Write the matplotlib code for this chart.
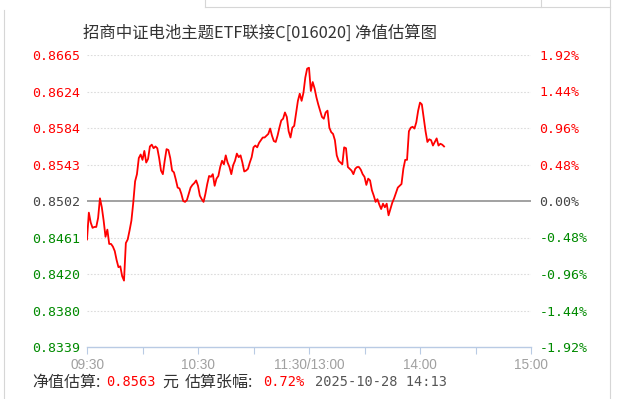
import matplotlib
matplotlib.use("Agg")
import matplotlib.pyplot as plt
from matplotlib.lines import Line2D

plt.rcParams["font.family"] = ["Noto Sans CJK SC", "DejaVu Sans"]

# trading minutes since 09:30 (11:30 and 13:00 share minute 120)
minutes = list(range(0, 194))
nav = [
    0.8459, 0.8489, 0.8478, 0.8472, 0.8473, 0.8473, 0.8483, 0.8505, 0.8495, 0.8480,
    0.8462, 0.8470, 0.8454, 0.8454, 0.8451, 0.8446, 0.8436, 0.8428, 0.8429, 0.8418,
    0.8413, 0.8455, 0.8459, 0.8469, 0.8480, 0.8500, 0.8524, 0.8532, 0.8550, 0.8554,
    0.8548, 0.8558, 0.8545, 0.8549, 0.8563, 0.8565, 0.8561, 0.8563, 0.8561, 0.8550,
    0.8536, 0.8532, 0.8547, 0.8560, 0.8559, 0.8550, 0.8536, 0.8534, 0.8526, 0.8517,
    0.8516, 0.8510, 0.8502, 0.8501, 0.8503, 0.8510, 0.8517, 0.8520, 0.8522, 0.8525,
    0.8519, 0.8508, 0.8504, 0.8501, 0.8510, 0.8521, 0.8530, 0.8529, 0.8532, 0.8519,
    0.8527, 0.8530, 0.8540, 0.8547, 0.8543, 0.8553, 0.8545, 0.8540, 0.8532, 0.8542,
    0.8547, 0.8555, 0.8551, 0.8553, 0.8545, 0.8535, 0.8536, 0.8538, 0.8545, 0.8551,
    0.8562, 0.8564, 0.8562, 0.8567, 0.8570, 0.8573, 0.8573, 0.8575, 0.8577, 0.8583,
    0.8575, 0.8569, 0.8568, 0.8575, 0.8584, 0.8592, 0.8594, 0.8601, 0.8596, 0.8580,
    0.8573, 0.8584, 0.8586, 0.8600, 0.8614, 0.8622, 0.8614, 0.8623, 0.8640, 0.8650,
    0.8651, 0.8625, 0.8635, 0.8628, 0.8618, 0.8610, 0.8603, 0.8596, 0.8594, 0.8601,
    0.8603, 0.8584, 0.8579, 0.8577, 0.8570, 0.8553, 0.8547, 0.8545, 0.8543, 0.8562,
    0.8561, 0.8540, 0.8538, 0.8536, 0.8532, 0.8538, 0.8540, 0.8540, 0.8537, 0.8532,
    0.8529, 0.8520, 0.8527, 0.8525, 0.8514, 0.8508, 0.8501, 0.8504, 0.8498, 0.8493,
    0.8499, 0.8495, 0.8499, 0.8486, 0.8493, 0.8500, 0.8505, 0.8511, 0.8517, 0.8519,
    0.8521, 0.8538, 0.8548, 0.8548, 0.8580, 0.8584, 0.8585, 0.8583, 0.8590, 0.8603,
    0.8612, 0.8610, 0.8595, 0.8580, 0.8568, 0.8571, 0.8570, 0.8564, 0.8568, 0.8572,
    0.8564, 0.8566, 0.8565, 0.8563,
]
base_nav = 0.8502
pct_ticks = [-1.92, -1.44, -0.96, -0.48, 0.0, 0.48, 0.96, 1.44, 1.92]
time_ticks = [0, 30, 60, 90, 120, 150, 180, 210, 240]
time_labels = ["09:30", "", "10:30", "", "11:30/13:00", "", "14:00", "", "15:00"]

title = "招商中证电池主题ETF联接C[016020] 净值估算图"
est_nav = "0.8563"
est_pct = "0.72%"
stamp = "2025-10-28 14:13"

RED = "#ff0000"
GREEN = "#008a00"
ZERO = "#444444"
W, H = 621, 399


def px(x, y):
    return x / W, 1 - y / H


fig = plt.figure(figsize=(W / 100, H / 100), dpi=100)
ax = fig.add_axes([87 / W, 1 - 347 / H, 444 / W, 292 / H])

levels = [base_nav * (1 + p / 100) for p in pct_ticks]
for p, lv in zip(pct_ticks, levels):
    if p == 0:
        ax.axhline(lv, color="#9a9a9a", lw=1.3, zorder=1)
    elif p != pct_ticks[0]:
        ax.axhline(lv, color="#dcdcdc", lw=0.8, ls=(0, (1.5, 1.5)), zorder=1)

ax.plot(minutes, nav, color=RED, lw=1.3, zorder=3)

ax.set_xlim(0, 240)
ax.set_ylim(levels[0], levels[-1])
for s in ("top", "right", "left"):
    ax.spines[s].set_visible(False)
ax.spines["bottom"].set_color("#b9cbe4")
ax.spines["bottom"].set_linewidth(1.0)

ax.set_xticks(time_ticks)
ax.set_xticklabels(time_labels, fontsize=9.8, color="#a0a0a0",
                   family=["Liberation Sans", "DejaVu Sans"])
ax.tick_params(axis="x", length=5, color="#b9cbe4", pad=3)

ax.set_yticks(levels)
ax.set_yticklabels([f"{v:.4f}" for v in levels], family="DejaVu Sans Mono", fontsize=9.5)
ax.tick_params(axis="y", length=0, pad=5)

ax2 = ax.twinx()
ax2.set_ylim(pct_ticks[0], pct_ticks[-1])
for s in ax2.spines.values():
    s.set_visible(False)
ax2.set_yticks(pct_ticks)
ax2.set_yticklabels([f"{p:.2f}%" for p in pct_ticks], family="DejaVu Sans Mono", fontsize=9.5)
ax2.tick_params(axis="y", length=0, pad=6)

for p, t1, t2 in zip(pct_ticks, ax.get_yticklabels(), ax2.get_yticklabels()):
    c = RED if p > 0 else (GREEN if p < 0 else ZERO)
    t1.set_color(c)
    t2.set_color(c)

fig.text(*px(83, 33), title, fontsize=11.8, color="#333333", ha="left", va="center")

# footer
fy = 382
fig.text(*px(32, fy), "净值估算:", fontsize=11.5, color="#333333", va="center")
fig.text(*px(106, fy), est_nav, fontsize=9.8, color=RED, family="DejaVu Sans Mono", va="center")
fig.text(*px(162, fy), "元", fontsize=11.5, color="#333333", va="center")
fig.text(*px(185, fy), "估算张幅:", fontsize=11.5, color="#333333", va="center")
fig.text(*px(263, fy), est_pct, fontsize=9.8, color=RED, family="DejaVu Sans Mono", va="center")
fig.text(*px(315, fy), stamp, fontsize=9.8, color="#555555", family="DejaVu Sans Mono", va="center")

# page frame around the chart
frame = "#d6d6d6"
for (x0, y0), (x1, y1) in [((205, 7), (610, 7)), ((205, 0), (205, 7)), ((541, 0), (541, 7)),
                           ((610, 0), (610, 399)), ((4, 10), (4, 399))]:
    a, b = px(x0, y0)
    c, d = px(x1, y1)
    fig.add_artist(Line2D([a, c], [b, d], color=frame, lw=0.8))

fig.savefig("out.png", dpi=100)
